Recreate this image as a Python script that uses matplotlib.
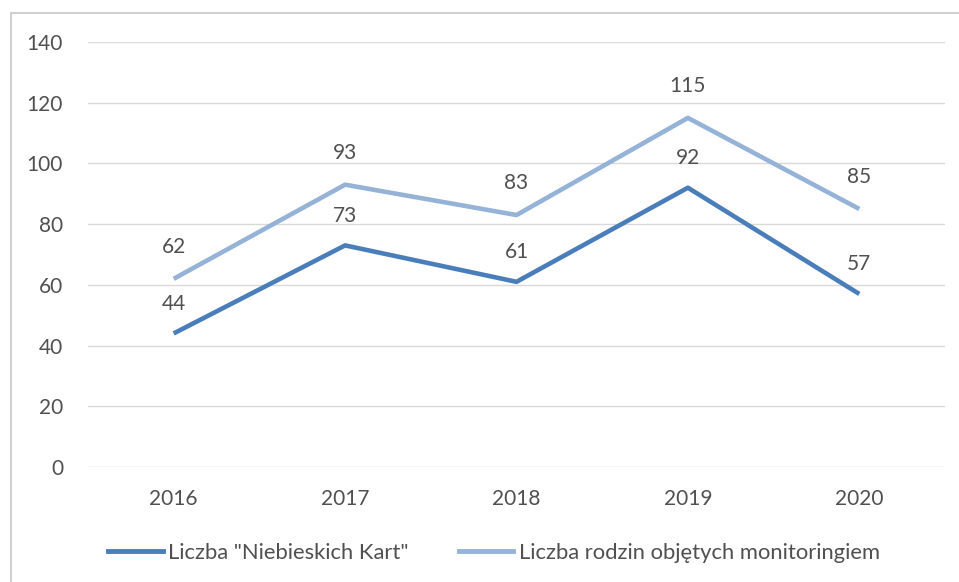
import matplotlib.pyplot as plt
from matplotlib.patches import Rectangle
from matplotlib.lines import Line2D

years = ["2016", "2017", "2018", "2019", "2020"]
karty = [44, 73, 61, 92, 57]
rodziny = [62, 93, 83, 115, 85]

dark = "#4a7ebb"
light = "#95b3d7"
txt = "#505050"

plt.rcParams['font.family'] = ['Lato', 'DejaVu Sans']

fig = plt.figure(figsize=(9.59, 5.82), dpi=100)
ax = fig.add_axes([88 / 959, 115 / 582, 857 / 959, 425 / 582])

x = range(len(years))
ax.plot(x, karty, color=dark, lw=3.3, solid_capstyle='butt', zorder=3)
ax.plot(x, rodziny, color=light, lw=3.3, solid_capstyle='butt', zorder=3)

# etykiety danych nad punktami
for i, v in enumerate(karty):
    ax.annotate(str(v), (i, v), xytext=(0, 21.5), textcoords='offset points',
                ha='center', va='center', fontsize=15, color=txt)
for i, v in enumerate(rodziny):
    ax.annotate(str(v), (i, v), xytext=(0, 23), textcoords='offset points',
                ha='center', va='center', fontsize=15, color=txt)

ax.set_xlim(-0.5, len(years) - 0.5)
ax.set_ylim(0, 140)
ax.set_yticks(range(0, 141, 20))
ax.set_xticks(list(x))
ax.set_xticklabels(years)
ax.grid(axis='y', color='#d9d9d9', lw=1)
ax.set_axisbelow(True)
for s in ax.spines.values():
    s.set_visible(False)
ax.tick_params(length=0, labelsize=15, labelcolor=txt)
ax.tick_params(axis='y', pad=18)
ax.tick_params(axis='x', pad=16)

handles = [Line2D([], [], color=dark, lw=3.5), Line2D([], [], color=light, lw=3.5)]
fig.legend(handles, ['Liczba "Niebieskich Kart"', 'Liczba rodzin objętych monitoringiem'],
           loc='center left', bbox_to_anchor=(88 / 959, 1 - 553 / 582), ncol=2,
           frameon=False, fontsize=15.8, labelcolor=txt, handlelength=2.5,
           handletextpad=0.23, columnspacing=2.3)

# ramka wokół wykresu
fig.add_artist(Rectangle((11 / 959, -0.1), 1.1, 1 - 13 / 582 + 0.1,
                         transform=fig.transFigure, fill=False,
                         edgecolor='#d0d0d0', lw=1.5))

fig.savefig('out.png', dpi=100)
